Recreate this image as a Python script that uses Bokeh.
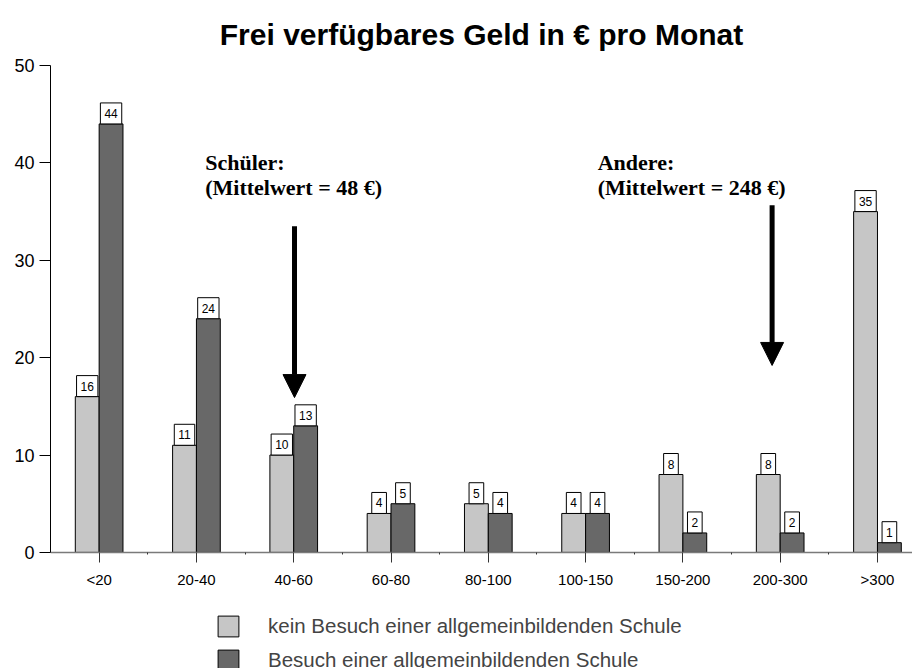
from bokeh.plotting import figure
from bokeh.models import (Range1d, FixedTicker, Legend, LegendItem, Arrow, NormalHead,
                          Label, ColumnDataSource)
from bokeh.core.properties import value
from bokeh.embed import file_html
from bokeh.resources import INLINE

categories = ["<20", "20-40", "40-60", "60-80", "80-100", "100-150", "150-200", "200-300", ">300"]
kein_besuch = [16, 11, 10, 4, 5, 4, 8, 8, 35]
besuch = [44, 24, 13, 5, 4, 4, 2, 2, 1]
series_names = ["kein Besuch einer allgemeinbildenden Schule", "Besuch einer allgemeinbildenden Schule"]
y_ticks = [0, 10, 20, 30, 40, 50]
title_text = "Frei verfügbares Geld in € pro Monat"
note_schueler = "Schüler:\n(Mittelwert = 48 €)"
note_andere = "Andere:\n(Mittelwert = 248 €)"

LIGHT = "#c6c6c6"
DARK = "#686868"
BW = 0.245
SANS = "Liberation Sans"
SERIF = "Liberation Serif"

idx = list(range(len(categories)))
x_light = [i - BW / 2 for i in idx]
x_dark = [i + BW / 2 for i in idx]

src = ColumnDataSource(dict(x_light=x_light, x_dark=x_dark, kein=kein_besuch, besuch=besuch,
                            kein_lbl=[str(v) for v in kein_besuch],
                            besuch_lbl=[str(v) for v in besuch]))

W, H = 912, 668
p = figure(width=W, height=H, output_backend="svg", toolbar_location=None,
           x_range=Range1d(-0.5, 8.36), y_range=Range1d(-11.92, 50),
           min_border_left=50, min_border_right=0, min_border_top=65, min_border_bottom=0)

p.title.text = title_text
p.title.text_font = SANS
p.title.text_font_size = "30px"
p.title.text_font_style = "bold"
p.title.text_color = "black"
p.title.align = "center"
p.title.offset = 5
p.title.standoff = 29

p.outline_line_color = None
p.grid.visible = False
p.background_fill_color = "white"

r1 = p.vbar(x="x_light", top="kein", width=BW, source=src, fill_color=LIGHT, line_color="black", line_width=1)
r2 = p.vbar(x="x_dark", top="besuch", width=BW, source=src, fill_color=DARK, line_color="black", line_width=1)

for xcol, lcol in (("x_light", "kein"), ("x_dark", "besuch")):
    p.text(x=xcol, y=lcol, text=lcol + "_lbl", source=src, text_font=value(SANS), text_font_size="12px",
           text_align="center", text_baseline="bottom", y_offset=0, text_color="black",
           background_fill_color="white", border_line_color="black", border_line_width=1, padding=(4, 6))

# axes
xa = p.xaxis[0]
xa.fixed_location = 0
xa.ticker = FixedTicker(ticks=idx, minor_ticks=[i + 0.5 for i in idx[:-1]])
xa.major_label_overrides = {i: c for i, c in enumerate(categories)}
xa.major_label_text_font = SANS
xa.major_label_text_font_size = "15px"
xa.major_label_text_color = "black"
xa.axis_line_color = "#7a7a7a"
xa.axis_line_width = 1.5
xa.major_tick_line_color = "#333333"
xa.major_tick_out = 10
xa.major_tick_in = 0
xa.minor_tick_in = 0
xa.minor_tick_out = 2
xa.minor_tick_line_color = "#333333"
xa.major_label_standoff = 9

ya = p.yaxis[0]
ya.ticker = FixedTicker(ticks=y_ticks)
ya.bounds = (0, 50)
ya.major_label_text_font = SANS
ya.major_label_text_font_size = "18px"
ya.major_label_text_color = "black"
ya.axis_line_color = "black"
ya.major_tick_out = 11
ya.major_tick_in = 0
ya.minor_tick_line_color = None
ya.major_label_standoff = 5

# annotations
head = dict(size=23, fill_color="black", line_color="black")
p.add_layout(Arrow(end=NormalHead(**head), x_start=2.008, y_start=33.5, x_end=2.008, y_end=15.9,
                   line_width=5, line_color="black"))
p.add_layout(Arrow(end=NormalHead(**head), x_start=6.917, y_start=35.66, x_end=6.917, y_end=19.2,
                   line_width=5, line_color="black"))
for tx, xpos in ((note_schueler, 1.09), (note_andere, 5.124)):
    p.add_layout(Label(x=xpos, y=41.3, text=tx, text_font=SERIF, text_font_size="22px",
                       text_font_style="bold", text_baseline="top", text_align="left",
                       text_line_height=1.0, text_color="black"))

legend = Legend(items=[LegendItem(label=series_names[0], renderers=[r1]),
                       LegendItem(label=series_names[1], renderers=[r2])],
                orientation="vertical", location=(165, -5),
                glyph_width=26, glyph_height=26, label_height=26, spacing=8,
                label_standoff=27, label_text_font=SANS, label_text_font_size="20.5px",
                border_line_color=None, background_fill_alpha=0, padding=0, margin=0)
p.add_layout(legend, "center")

open("out.html", "w").write(file_html(p, INLINE))
